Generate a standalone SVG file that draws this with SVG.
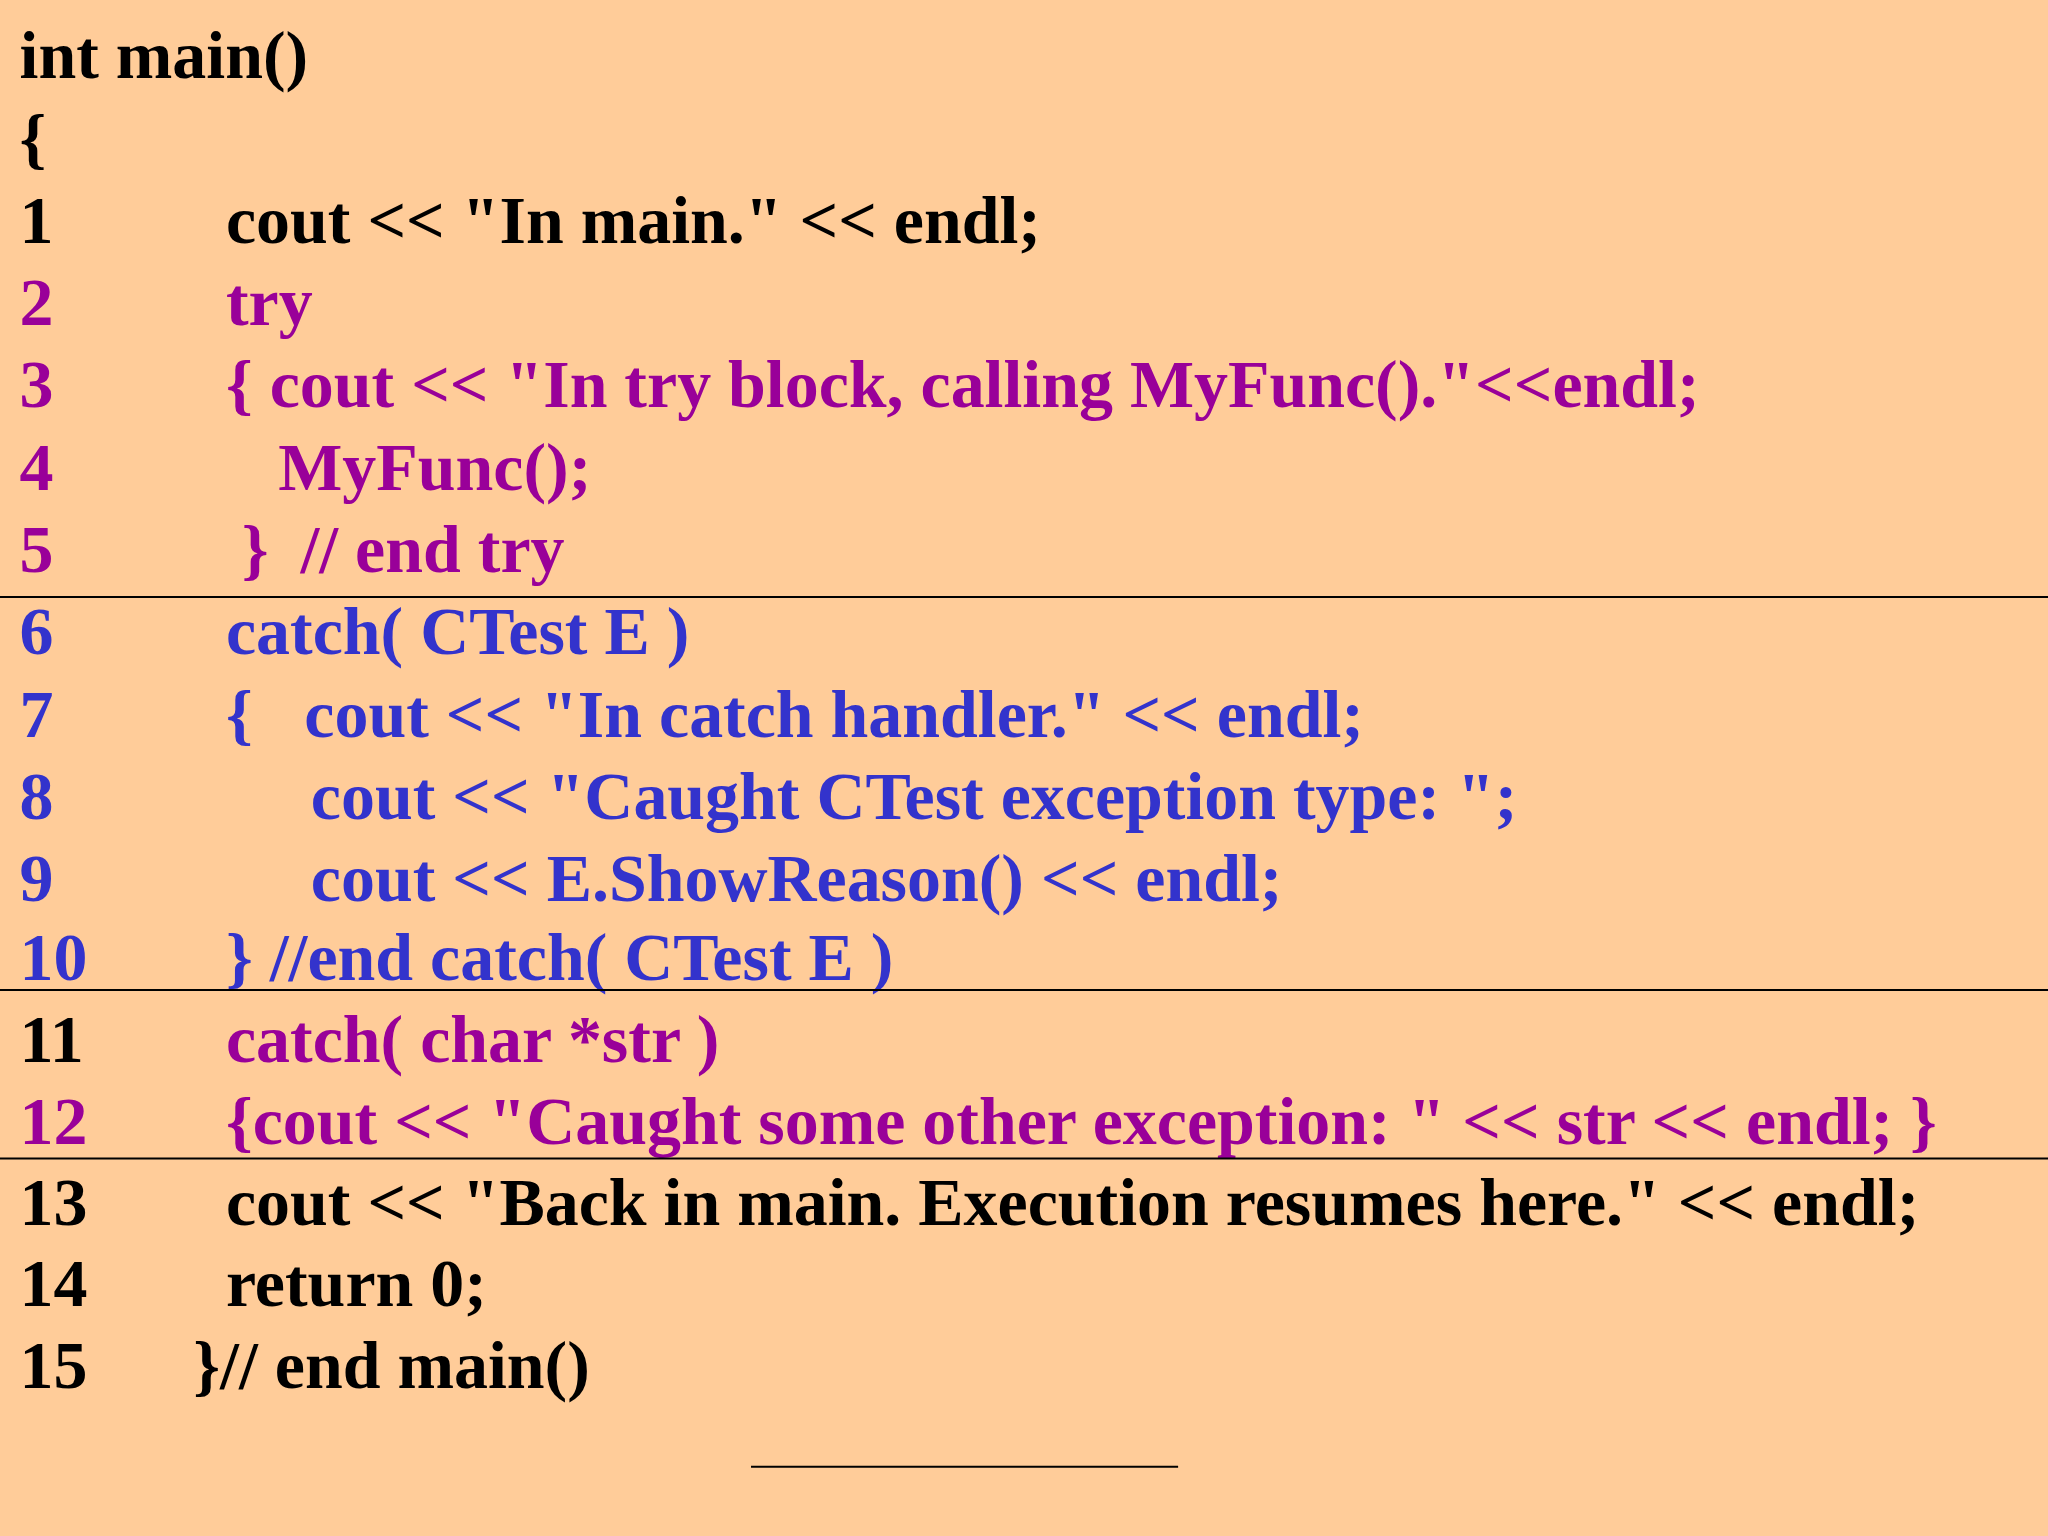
<svg xmlns="http://www.w3.org/2000/svg" width="2048" height="1536" viewBox="0 0 2048 1536">
<style>
text{font-family:"Liberation Serif","Times New Roman",serif;font-weight:bold;font-size:52px}
.k{fill:#000}.p{fill:#990099}.b{fill:#3333CC}
line{stroke:#000;stroke-width:1.5}
</style>
<rect width="2048" height="1536" fill="#FFCC99"/>
<g transform="scale(1.30612) translate(0,-2)">
<g id="code">
<text class="k" x="15" y="62">int main()</text>
<text class="k" x="15" y="125">{</text>
<text class="k" x="15" y="188">1</text><text class="k" x="173" y="188">cout &lt;&lt; "In main." &lt;&lt; endl;</text>
<text class="p" x="15" y="251">2</text><text class="p" x="173" y="251">try</text>
<text class="p" x="15" y="314">3</text><text class="p" x="173" y="314">{ cout &lt;&lt; "In try block, calling MyFunc()."&lt;&lt;endl;</text>
<text class="p" x="15" y="377">4</text><text class="p" x="213" y="377">MyFunc();</text>
<text class="p" x="15" y="440">5</text><text class="p" x="185" y="440">}</text><text class="p" x="230" y="440">// end try</text>
<text class="b" x="15" y="503">6</text><text class="b" x="173" y="503">catch( CTest E )</text>
<text class="b" x="15" y="566">7</text><text class="b" x="173" y="566">{</text><text class="b" x="233" y="566">cout &lt;&lt; "In catch handler." &lt;&lt; endl;</text>
<text class="b" x="15" y="629">8</text><text class="b" x="238" y="629">cout &lt;&lt; "Caught CTest exception type: ";</text>
<text class="b" x="15" y="692">9</text><text class="b" x="238" y="692">cout &lt;&lt; E.ShowReason() &lt;&lt; endl;</text>
<text class="b" x="15" y="752">10</text><text class="b" x="173" y="752">} //end catch( CTest E )</text>
<text class="k" x="15" y="815">11</text><text class="p" x="173" y="815">catch( char *str )</text>
<text class="p" x="15" y="878">12</text><text class="p" x="173" y="878">{cout &lt;&lt; "Caught some other exception: " &lt;&lt; str &lt;&lt; endl; }</text>
<text class="k" x="15" y="940">13</text><text class="k" x="173" y="940">cout &lt;&lt; "Back in main. Execution resumes here." &lt;&lt; endl;</text>
<text class="k" x="15" y="1002">14</text><text class="k" x="173" y="1002">return 0;</text>
<text class="k" x="15" y="1065">15</text><text class="k" x="148" y="1065">}// end main()</text>
</g>
</g>
<g id="rules" transform="scale(1.30612)">
<line x1="0" y1="457" x2="1568" y2="457"/>
<line x1="0" y1="758" x2="1568" y2="758"/>
<line x1="0" y1="887" x2="1568" y2="887"/>
<line x1="575" y1="1123" x2="902" y2="1123"/>
</g>
</svg>
